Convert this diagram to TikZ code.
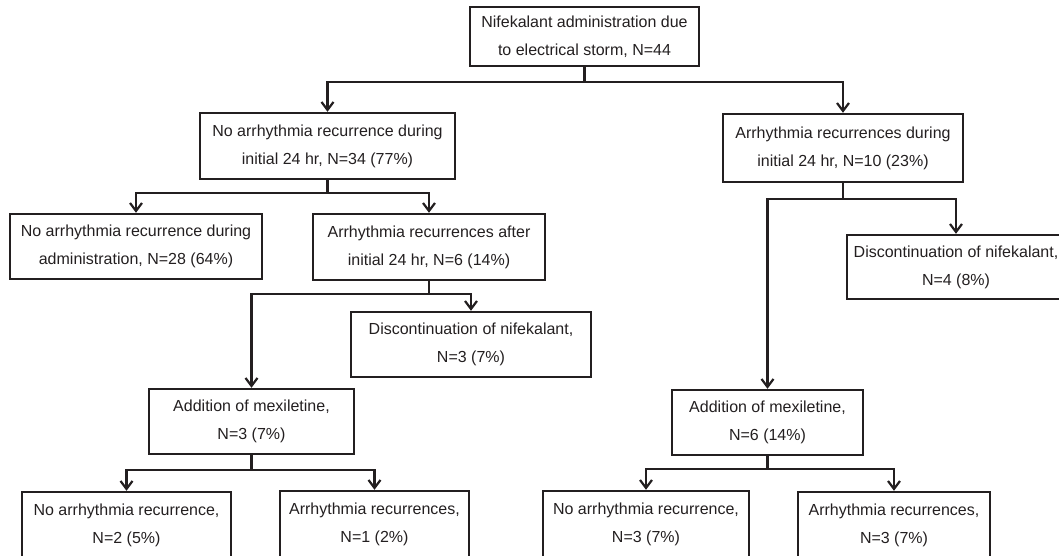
\documentclass[tikz,border=0pt]{standalone}
\usepackage{fontspec}
\setmainfont{Liberation Sans}
\usetikzlibrary{arrows.meta}
\definecolor{ink}{HTML}{231F20}
\begin{document}
\begin{tikzpicture}[x=1pt,y=-1pt,
  box/.style={draw=ink,line width=2.4pt,rectangle,inner sep=0pt,align=center,text=ink,
    font=\fontsize{16}{28}\selectfont},
  link/.style={draw=ink,line width=2.4pt},
  arr/.style={link,-{Straight Barb[length=8pt,width=12pt,line width=2.2pt]}}]
\useasboundingbox (0,0) rectangle (1059,555);
\clip (0,0) rectangle (1059,555);
\node[box,minimum width=229pt,minimum height=59pt] (top) at (584.5,36.5) {Nifekalant administration due\\to electrical storm, N=44};
\node[box,minimum width=255pt,minimum height=66pt] (n1) at (327.5,146) {No arrhythmia recurrence during\\initial 24 hr, N=34 (77\%)};
\node[box,minimum width=240pt,minimum height=68pt] (n8) at (843,148) {Arrhythmia recurrences during\\initial 24 hr, N=10 (23\%)};
\node[box,minimum width=252pt,minimum height=65pt] (n2) at (136,246.5) {No arrhythmia recurrence during\\administration, N=28 (64\%)};
\node[box,minimum width=232pt,minimum height=66pt] (n3) at (429,247) {Arrhythmia recurrences after\\initial 24 hr, N=6 (14\%)};
\node[box,minimum width=240pt,minimum height=65pt] (n5) at (471,344.5) {Discontinuation of nifekalant,\\N=3 (7\%)};
\node[box,minimum width=218pt,minimum height=64pt] (n9) at (956,267) {Discontinuation of nifekalant,\\N=4 (8\%)};
\node[box,minimum width=205pt,minimum height=65pt] (n4) at (251.5,421.5) {Addition of mexiletine,\\N=3 (7\%)};
\node[box,minimum width=191pt,minimum height=65pt] (n10) at (767.5,422.5) {Addition of mexiletine,\\N=6 (14\%)};
\node[box,minimum width=209pt,minimum height=66pt] (n6) at (126.5,525) {No arrhythmia recurrence,\\N=2 (5\%)};
\node[box,minimum width=189pt,minimum height=66pt] (n7) at (374.5,524) {Arrhythmia recurrences,\\N=1 (2\%)};
\node[box,minimum width=206pt,minimum height=66pt] (n11) at (646,524) {No arrhythmia recurrence,\\N=3 (7\%)};
\node[box,minimum width=192pt,minimum height=66pt] (n12) at (894,525) {Arrhythmia recurrences,\\N=3 (7\%)};
% junctions
\coordinate (j0) at (584.5,82);
\coordinate (j1) at (327.5,193);
\coordinate (j3) at (429,294);
\coordinate (j4) at (251.5,470);
\coordinate (j8) at (843,199);
\coordinate (j10) at (767.5,469);
\draw[link] (top.south) -- (j0);
\draw[arr] (j0) -| (n1.north);
\draw[arr] (j0) -| (n8.north);
\draw[link] (n1.south) -- (j1);
\draw[arr] (j1) -| (n2.north);
\draw[arr] (j1) -| (n3.north);
\draw[link] (n3.south) -- (j3);
\draw[arr] (j3) -| (n5.north);
\draw[arr] (j3) -| (n4.north);
\draw[link] (n4.south) -- (j4);
\draw[arr] (j4) -| (n6.north);
\draw[arr] (j4) -| (n7.north);
\draw[link] (n8.south) -- (j8);
\draw[arr] (j8) -| (n9.north);
\draw[arr] (j8) -| (n10.north);
\draw[link] (n10.south) -- (j10);
\draw[arr] (j10) -| (n11.north);
\draw[arr] (j10) -| (n12.north);
\end{tikzpicture}
\end{document}
